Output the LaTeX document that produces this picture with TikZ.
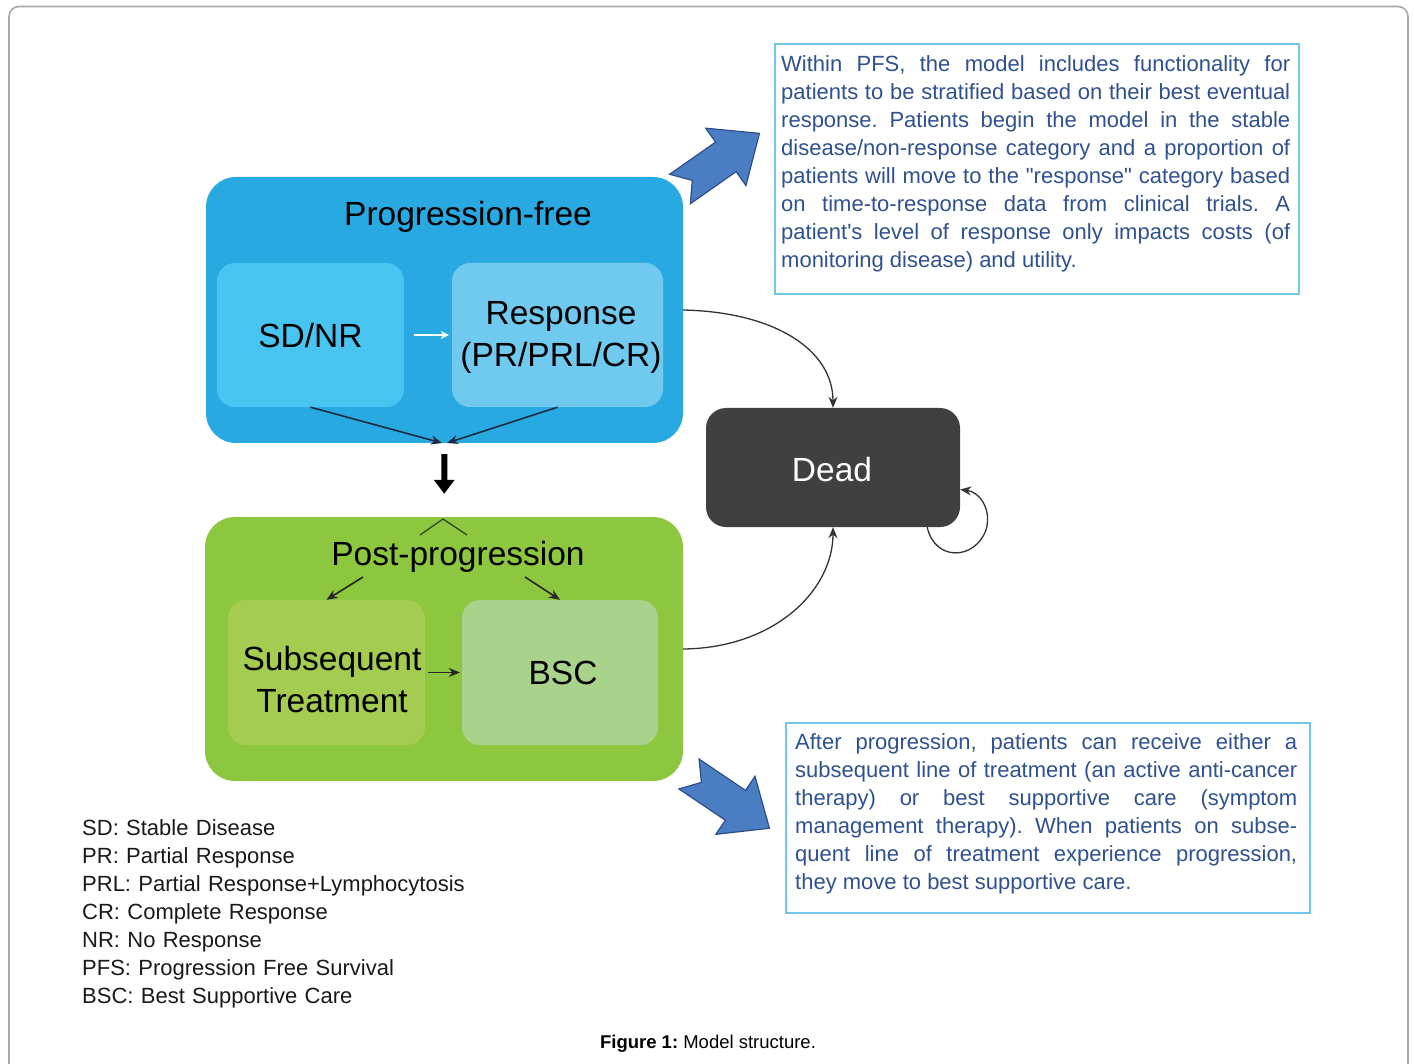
\documentclass[tikz,border=0pt]{standalone}
\usepackage{fontspec}
\setmainfont{Liberation Sans}
\newfontfamily\plainsans{Liberation Sans}
\usetikzlibrary{arrows.meta,calc}
\frenchspacing

\definecolor{pfblue}{HTML}{29A9E1}
\definecolor{sdcol}{HTML}{48C4F1}
\definecolor{respcol}{HTML}{70C9EF}
\definecolor{ppgreen}{HTML}{8DC63F}
\definecolor{subscol}{HTML}{A3CC50}
\definecolor{bsccol}{HTML}{A9D38B}
\definecolor{deadcol}{HTML}{404040}
\definecolor{noteblue}{HTML}{30518F}
\definecolor{notecyan}{HTML}{72C6E7}
\definecolor{navyline}{HTML}{1B2B42}
\definecolor{chevgreen}{HTML}{2F4A1A}
\definecolor{bigfill}{HTML}{4A7DC2}
\definecolor{bigdraw}{HTML}{2C4F8C}
\definecolor{framegray}{HTML}{A8A8A8}

\begin{document}
\begin{tikzpicture}[x=1pt,y=-1pt,
  outerbox/.style={rounded corners=30pt, inner sep=0pt, draw=none},
  innerbox/.style={rounded corners=18pt, inner sep=0pt, draw=none, align=center,
                   font=\fontsize{33.5}{42}\selectfont, text=black},
  lbl/.style={font=\fontsize{33.5}{42}\selectfont, text=black, inner sep=0pt, align=center},
  note/.style={draw=notecyan, line width=2.5pt, inner sep=0pt, fill=white},
  notetext/.style={text=noteblue, font=\plainsans\fontsize{22}{28}\selectfont, text width=#1,
                   align=justify, inner sep=0pt, anchor=base west},
  darr/.style={-{Stealth[length=11pt,width=9pt]}},
  bigarrow/.style={fill=bigfill, draw=bigdraw, line width=1.2pt, line join=miter}
]
\useasboundingbox (0,0) rectangle (1414,1064);

% outer frame (open at the bottom)
\draw[framegray, line width=1.6pt, rounded corners=10pt]
  (9,1080) -- (9,6.5) -- (1408,6.5) -- (1408,1080);

% ---- Progression-free block
\node[outerbox, fill=pfblue, minimum width=477pt, minimum height=266pt] (pf) at (444.5,310) {};
\node[lbl] (pftitle) at (468,217) {Progression-free};
\node[innerbox, fill=sdcol, minimum width=187pt, minimum height=144pt] (sd) at (310.5,335) {};
\node[lbl] (sdtxt) at (310.5,336) {SD/NR};
\node[innerbox, fill=respcol, minimum width=211pt, minimum height=144pt] (resp) at (557.5,335) {};
\node[lbl] (resptxt) at (561,337) {Response\\(PR/PRL/CR)};

% ---- Post-progression block
\node[outerbox, fill=ppgreen, minimum width=478pt, minimum height=264pt] (pp) at (444,649) {};
\node[lbl] (pptitle) at (458,557) {Post-progression};
\node[innerbox, fill=subscol, minimum width=197pt, minimum height=145pt] (subs) at (326.5,672.5) {};
\node[lbl] (substxt) at (332,680) {Subsequent\\Treatment};
\node[innerbox, fill=bsccol, minimum width=196pt, minimum height=145pt] (bsc) at (560,672.5) {};
\node[lbl] (bsctxt) at (563,673) {BSC};

% ---- Dead
\node[innerbox, rounded corners=20pt, fill=deadcol, minimum width=254pt, minimum height=119pt] (dead) at (833,467.5) {};
\node[lbl, text=white] (deadtxt) at (832,470) {Dead};

% ---- connectors inside Progression-free
\draw[white, line width=1.6pt, -{Stealth[length=8pt,width=8pt]}, shorten <=10pt, shorten >=3pt] (sd) -- (resp);
\coordinate (m1) at (442,443);
\coordinate (m2) at (447,443);
\draw[navyline, line width=1.6pt, darr] (sd.south) -- (m1);
\draw[navyline, line width=1.6pt, darr] (resp.south) -- (m2);

% thick arrow between blocks
\draw[black, line width=6pt, -{Triangle[length=14pt,width=20pt]}, shorten <=11pt, shorten >=23pt] (pf) -- (pp);

% chevron at top of post-progression
\coordinate (ch1) at (420,535);
\coordinate (ch2) at (443,519);
\coordinate (ch3) at (467,535);
\draw[chevgreen, line width=1.3pt] (ch1) -- (ch2) -- (ch3);

% connectors inside Post-progression
\coordinate (pa1) at (363,577);
\coordinate (pa2) at (525,577);
\draw[black!85, line width=1.6pt, darr] (pa1) -- (subs.north);
\draw[black!85, line width=1.6pt, darr] (pa2) -- (bsc.north);
\draw[black!85, line width=1.8pt, darr, shorten <=3pt, shorten >=2pt] (subs) -- (bsc);

% curves to Dead
\draw[black!80, line width=1.3pt, darr] (pf.east) .. controls (775,312) and (833,350) .. (dead.north);
\draw[black!80, line width=1.3pt, darr] (pp.east) .. controls (775,648) and (833,590) .. (dead.south);
\coordinate (lps) at ($(dead.south east)+(-33,0)$);
\coordinate (lpe) at ($(dead.east)+(0,22)$);
\draw[black!80, line width=1.3pt, darr] (lps) .. controls (935,562) and (975,560) .. (986,530)
   .. controls (992,510) and (980,492) .. (lpe);

% big block arrows
\begin{scope}[shift={(680,189)}, rotate=35]
  \draw[bigarrow] (0,-18) -- (56,-18) -- (56,-35) -- (97,0) -- (56,35) -- (56,18) -- (0,18) -- (15,0) -- cycle;
\end{scope}
\begin{scope}[shift={(689,774)}, rotate=-34]
  \draw[bigarrow] (0,-18) -- (56,-18) -- (56,-35) -- (97,0) -- (56,35) -- (56,18) -- (0,18) -- (15,0) -- cycle;
\end{scope}

% ---- note boxes
\node[note, minimum width=524pt, minimum height=250pt] (n1) at (1037,169) {};
\node[notetext=509pt] (n1t) at (781,72) {Within PFS, the model includes functionality for\linebreak
patients to be stratified based on their best eventual\linebreak
response. Patients begin the model in the stable\linebreak
disease/non-response category and a proportion of\linebreak
patients will move to the "response" category based\linebreak
on time-to-response data from clinical trials. A\linebreak
patient's level of response only impacts costs (of\linebreak
monitoring disease) and utility.};

\node[note, minimum width=524pt, minimum height=190pt] (n2) at (1048,818) {};
\node[notetext=502pt] (n2t) at (795,749) {After progression, patients can receive either a\linebreak
subsequent line of treatment (an active anti-cancer\linebreak
therapy) or best supportive care (symptom\linebreak
management therapy). When patients on subse-\linebreak
quent line of treatment experience progression,\linebreak
they move to best supportive care.};

% ---- legend
\node[anchor=base west, text width=420pt, align=left, inner sep=0pt,
      font=\fontsize{22}{28}\selectfont, text=black!90] (leg) at (82,835) {SD: Stable Disease\\
PR: Partial Response\\
PRL: Partial Response+Lymphocytosis\\
CR: Complete Response\\
NR: No Response\\
PFS: Progression Free Survival\\
BSC: Best Supportive Care};

% ---- caption
\node[anchor=base, inner sep=0pt, font=\fontsize{18.5}{22}\selectfont] (cap) at (708,1048) {\textbf{Figure 1:} Model structure.};
\end{tikzpicture}
\end{document}
